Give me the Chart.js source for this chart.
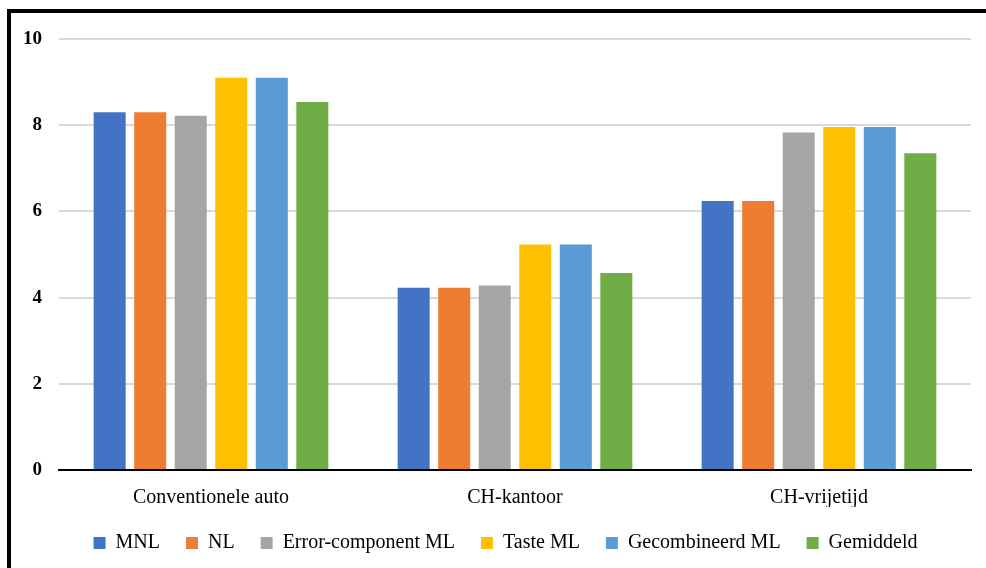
<!DOCTYPE html>
<html lang="nl">
<head>
<meta charset="utf-8">
<title>Waardering per voertuigtype</title>
<script src="https://cdn.jsdelivr.net/npm/chart.js@4.4.1/dist/chart.umd.min.js"></script>
<style>
  html, body { margin: 0; padding: 0; background: #fff; }
  #wrap { position: relative; width: 986px; height: 568px; overflow: hidden; }
  #frame { position: absolute; left: 7px; top: 9px; right: -10px; bottom: -10px;
           border-left: 4px solid #000; border-top: 4px solid #000; }
  #chart { position: absolute; left: 0; top: 0; }
</style>
</head>
<body>
<div id="wrap">
  <div id="frame"></div>
  <canvas id="chart" width="986" height="568"></canvas>
</div>
<script>
// Categories and model results
const categories = ['Conventionele auto', 'CH-kantoor', 'CH-vrijetijd'];
const seriesNames = ['MNL', 'NL', 'Error-component ML', 'Taste ML', 'Gecombineerd ML', 'Gemiddeld'];
const mnl = [8.30, 4.23, 6.24];
const nl = [8.30, 4.23, 6.24];
const errorComponentMl = [8.22, 4.28, 7.83];
const tasteMl = [9.10, 5.23, 7.96];
const gecombineerdMl = [9.10, 5.23, 7.96];
const gemiddeld = [8.54, 4.57, 7.35];
const yTicks = [0, 2, 4, 6, 8, 10];

const colors = ['#4472C4', '#ED7D31', '#A5A5A5', '#FFC000', '#5B9BD5', '#70AD47'];
const values = [mnl, nl, errorComponentMl, tasteMl, gecombineerdMl, gemiddeld];

const FONT = "'Liberation Serif', 'Times New Roman', serif";

const datasets = seriesNames.map((name, i) => ({
  label: name,
  data: values[i],
  backgroundColor: colors[i],
  borderWidth: 0,
  categoryPercentage: 0.8,
  barPercentage: 0.79
}));

// Fixed legend height, and the legend row centred under the plot area
const legendPlacement = {
  id: 'legendPlacement',
  beforeInit(chart) {
    const fit = chart.legend.fit;
    chart.legend.fit = function () {
      fit.call(this);
      this.height = 61;
    };
  },
  afterLayout(chart) {
    chart.legend.left = 40;
  }
};

new Chart(document.getElementById('chart'), {
  type: 'bar',
  data: { labels: categories, datasets },
  plugins: [legendPlacement],
  options: {
    responsive: false,
    animation: false,
    layout: { padding: { left: 0, right: 15, top: 39, bottom: 0 } },
    plugins: {
      tooltip: { enabled: false },
      legend: {
        position: 'bottom',
        labels: {
          boxWidth: 12,
          boxHeight: 12,
          padding: 26,
          color: '#000',
          font: { family: FONT, size: 20 }
        }
      }
    },
    scales: {
      x: {
        grid: { display: false },
        border: { display: true, color: '#000', width: 2 },
        ticks: { color: '#000', padding: 8, font: { family: FONT, size: 20 } },
        afterFit(scale) { scale.height = 37; }
      },
      y: {
        min: 0,
        max: 10,
        afterBuildTicks(scale) { scale.ticks = yTicks.map(v => ({ value: v })); },
        grid: {
          drawTicks: false,
          color: ctx => (ctx.tick && ctx.tick.value === 0 ? '#000' : '#d9d9d9'),
          lineWidth: ctx => 2
        },
        border: { display: false },
        ticks: { color: '#000', padding: 17, font: { family: FONT, size: 19, weight: 'bold' } },
        afterFit(scale) { scale.width = 59; }
      }
    }
  }
});
</script>
</body>
</html>
